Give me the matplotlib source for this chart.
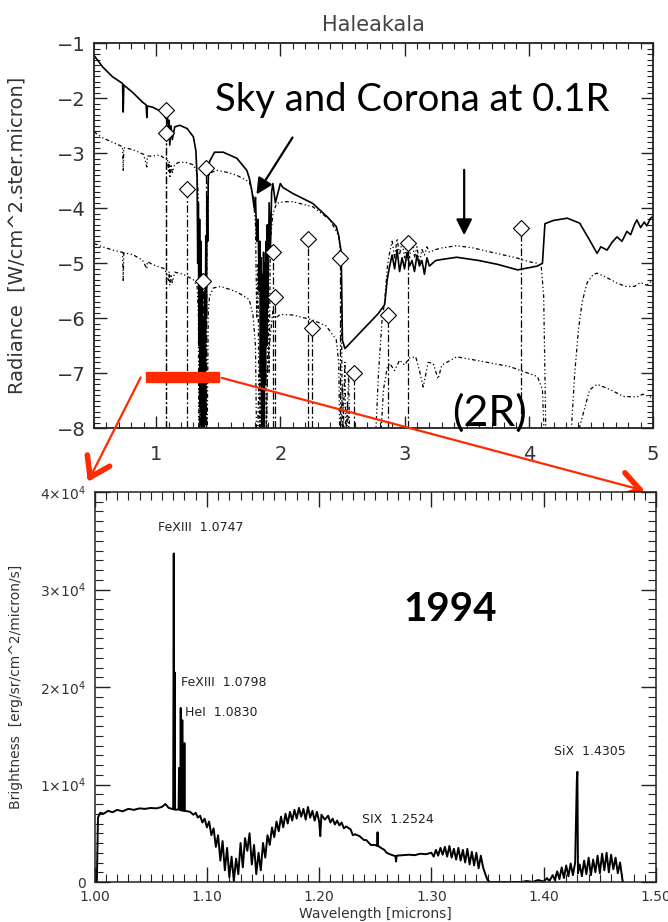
import matplotlib
matplotlib.use('Agg')
import matplotlib.pyplot as plt
from matplotlib.patches import Rectangle
from matplotlib.ticker import MultipleLocator, FixedLocator, FixedFormatter

plt.rcParams['mathtext.default'] = 'regular'

# ---- top panel: log radiance, Haleakala sky and corona ----
sky_x = [0.50, 0.57, 0.65, 0.73, 0.735, 0.74, 0.81, 0.89, 0.92, 0.925, 0.93, 0.97, 1.05, 1.08, 1.09,
         1.10, 1.105, 1.11, 1.12, 1.13, 1.15, 1.19, 1.25, 1.30, 1.32, 1.33, 1.335, 1.34, 1.345, 1.35,
         1.355, 1.36, 1.365, 1.37, 1.375, 1.38, 1.385, 1.39, 1.395, 1.40, 1.405, 1.41, 1.415, 1.42,
         1.43, 1.47, 1.54, 1.65, 1.73, 1.75, 1.77, 1.79, 1.80, 1.81, 1.82, 1.83, 1.835, 1.84, 1.845,
         1.85, 1.855, 1.86, 1.865, 1.87, 1.875, 1.88, 1.885, 1.89, 1.895, 1.90, 1.91, 1.92, 1.93,
         1.94, 1.96, 2.00, 2.02, 2.10, 2.26, 2.38, 2.45, 2.47, 2.49, 2.50, 2.52, 2.79, 2.84, 2.86,
         2.88, 2.90, 2.92, 2.94, 2.96, 2.98, 3.00, 3.02, 3.04, 3.06, 3.08, 3.10, 3.12, 3.14, 3.16,
         3.18, 3.20, 3.25, 3.30, 3.42, 3.60, 3.75, 3.91, 4.07, 4.11, 4.13, 4.20, 4.31, 4.41, 4.49,
         4.55, 4.58, 4.63, 4.67, 4.71, 4.75, 4.79, 4.82, 4.85, 4.87, 4.90, 4.93, 4.95, 4.98, 5.00]
sky_y = [-1.22, -1.43, -1.61, -1.73, -2.25, -1.76, -1.89, -2.07, -2.12, -2.35, -2.14, -2.16, -2.25, -2.37, -2.30,
         -2.60, -2.40, -2.85, -2.50, -2.75, -2.52, -2.49, -2.55, -2.70, -2.95, -3.45, -5.0, -3.9, -6.5, -4.2,
         -7.6, -4.6, -8.5, -5.2, -8.5, -6.0, -8.5, -5.5, -7.8, -4.5, -6.0, -3.8, -4.6, -3.4,
         -3.15, -2.98, -2.98, -3.09, -3.31, -3.45, -3.67, -4.0, -3.8, -4.6, -4.2, -5.5, -4.6, -7.0, -4.9,
         -8.5, -5.2, -7.5, -4.8, -8.5, -5.0, -7.2, -4.6, -6.5, -4.3, -5.8, -3.9, -4.8, -3.7,
         -3.55, -3.9, -3.55, -3.62, -3.73, -3.91, -4.16, -4.33, -4.5, -4.8, -6.4, -6.55, -5.91, -5.75, -5.3,
         -5.05, -4.85, -5.1, -4.75, -5.15, -4.9, -5.1, -4.8, -5.05, -4.95, -5.15, -4.85, -5.05, -4.95, -5.2,
         -4.9, -5.05, -4.95, -4.93, -4.89, -4.95, -5.02, -5.12, -5.05, -5.0, -4.28, -4.22, -4.18, -4.27, -4.58,
         -4.82, -4.70, -4.76, -4.62, -4.52, -4.60, -4.42, -4.48, -4.30, -4.21, -4.35, -4.25, -4.32, -4.18, -4.15]

c01_x = [0.50, 0.57, 0.65, 0.73, 0.735, 0.74, 0.81, 0.86, 0.90, 0.925, 0.93, 0.97, 1.03, 1.07, 1.09,
         1.10, 1.105, 1.11, 1.12, 1.13, 1.15, 1.19, 1.25, 1.30, 1.33, 1.34, 1.345, 1.35, 1.355, 1.36,
         1.365, 1.37, 1.375, 1.38, 1.385, 1.39, 1.395, 1.40, 1.405, 1.41, 1.415, 1.42, 1.43, 1.49,
         1.58, 1.65, 1.75, 1.78, 1.80, 1.81, 1.82, 1.83, 1.84, 1.85, 1.86, 1.87, 1.88, 1.89, 1.90,
         1.91, 1.92, 1.94, 1.97, 2.03, 2.10, 2.26, 2.40, 2.47, 2.49, 2.50, 2.52, 2.53, 2.55, 2.56,
         2.76, 2.79, 2.82, 2.84, 2.86, 2.88, 2.90, 2.92, 2.94, 2.96, 2.98, 3.00, 3.02, 3.04, 3.06,
         3.08, 3.10, 3.12, 3.14, 3.16, 3.18, 3.20, 3.25, 3.30, 3.42, 3.55, 3.70, 3.90, 4.00, 4.07,
         4.10, 4.12, 4.14, 4.33, 4.37, 4.40, 4.43, 4.47, 4.52, 4.55, 4.62, 4.71, 4.78, 4.85, 4.90,
         4.95, 5.00]
c01_y = [-2.61, -2.72, -2.80, -2.88, -3.31, -2.90, -2.93, -2.98, -3.02, -3.25, -3.05, -3.05, -3.03, -3.10, -3.08,
         -3.35, -3.15, -3.45, -3.20, -3.35, -3.20, -3.16, -3.17, -3.21, -3.35, -3.8, -5.5, -4.5, -8.5, -5.5,
         -8.5, -6.5, -8.5, -7.0, -8.5, -6.0, -8.5, -5.0, -7.5, -3.9, -4.5, -3.5, -3.36, -3.31,
         -3.35, -3.40, -3.52, -3.75, -4.3, -6.0, -5.0, -8.5, -6.5, -8.5, -7.0, -8.5, -6.0, -8.5, -5.5,
         -7.0, -4.6, -4.1, -3.91, -3.88, -3.88, -3.97, -4.21, -4.5, -5.0, -8.5, -6.8, -8.5, -7.0, -8.5,
         -8.5, -7.0, -6.0, -5.7, -5.1, -4.8, -4.6, -4.9, -4.55, -4.85, -4.6, -4.9, -4.65, -4.9, -4.55,
         -4.9, -4.7, -5.0, -4.75, -4.85, -4.7, -4.8, -4.75, -4.72, -4.68, -4.72, -4.80, -4.90, -4.97, -5.00,
         -5.05, -5.6, -8.5, -8.5, -7.0, -6.2, -5.7, -5.35, -5.2, -5.18, -5.25, -5.36, -5.42, -5.42, -5.35,
         -5.40, -5.30]

c2_x = [0.50, 0.57, 0.65, 0.73, 0.735, 0.74, 0.81, 0.89, 0.925, 0.93, 0.97, 1.03, 1.07, 1.10, 1.105,
        1.11, 1.12, 1.13, 1.15, 1.22, 1.30, 1.33, 1.34, 1.345, 1.35, 1.355, 1.36, 1.37, 1.38, 1.39,
        1.40, 1.41, 1.42, 1.43, 1.46, 1.52, 1.65, 1.75, 1.78, 1.80, 1.81, 1.83, 1.85, 1.86, 1.88,
        1.90, 1.92, 1.94, 1.96, 2.00, 2.10, 2.26, 2.37, 2.45, 2.47, 2.48, 2.50, 2.52, 2.54, 2.56,
        2.80, 2.83, 2.86, 2.88, 2.92, 2.96, 3.00, 3.04, 3.09, 3.12, 3.15, 3.19, 3.23, 3.27, 3.30,
        3.42, 3.64, 3.85, 4.07, 4.11, 4.13, 4.38, 4.41, 4.49, 4.55, 4.66, 4.76, 4.87, 4.92, 5.00]
c2_y = [-4.64, -4.70, -4.76, -4.80, -5.31, -4.81, -4.84, -4.94, -5.10, -4.97, -5.02, -5.07, -5.10, -5.31, -5.15,
        -5.40, -5.20, -5.35, -5.16, -5.20, -5.30, -5.42, -5.9, -8.5, -6.2, -8.5, -6.8, -8.5, -7.2, -8.5,
        -6.5, -8.5, -5.9, -5.6, -5.45, -5.42, -5.52, -5.66, -5.94, -6.5, -8.5, -7.0, -8.5, -7.2, -8.5,
        -6.8, -6.3, -5.86, -6.00, -5.93, -5.94, -6.03, -6.14, -6.39, -6.8, -8.5, -7.2, -8.5, -7.5, -8.5,
        -8.5, -7.3, -6.9, -6.82, -6.95, -6.76, -6.85, -6.72, -6.70, -6.95, -7.25, -6.80, -6.82, -7.10, -6.85,
        -6.70, -6.79, -6.88, -7.06, -7.30, -8.5, -8.5, -7.97, -7.30, -7.20, -7.30, -7.42, -7.43, -7.38, -7.45]

# diamonds with dash-dot drop lines
mark_x = [1.078, 1.078, 1.248, 1.398, 1.381, 1.938, 1.955, 2.223, 2.258, 2.477, 2.592, 2.863, 3.027, 3.939]
mark_y = [-2.21, -2.64, -3.65, -3.27, -5.33, -4.80, -5.61, -4.56, -6.18, -4.90, -7.00, -5.94, -4.64, -4.35]

# ---- bottom panel: 1994 spectrum ----
spec_x = [1.000, 1.002, 1.003, 1.005, 1.008, 1.012, 1.016, 1.020, 1.025, 1.030, 1.035, 1.040, 1.045, 1.050,
          1.055, 1.060, 1.063, 1.066, 1.069, 1.0700, 1.0705, 1.0709, 1.0713, 1.0717, 1.0748, 1.0752, 1.0756,
          1.0763, 1.0767, 1.0771, 1.0777, 1.0781, 1.0785, 1.0796, 1.0800, 1.0804, 1.085, 1.088, 1.090, 1.092,
          1.094, 1.096, 1.098, 1.100, 1.102, 1.104, 1.106, 1.108, 1.110, 1.112, 1.114, 1.116, 1.118, 1.120,
          1.122, 1.124, 1.126, 1.128, 1.130, 1.132, 1.134, 1.136, 1.138, 1.140, 1.142, 1.144, 1.146, 1.148,
          1.150, 1.152, 1.154, 1.156, 1.158, 1.160, 1.162, 1.164, 1.166, 1.168, 1.170, 1.172, 1.174, 1.176,
          1.178, 1.180, 1.182, 1.184, 1.186, 1.188, 1.190, 1.192, 1.194, 1.196, 1.198, 1.200, 1.201, 1.202,
          1.205, 1.208, 1.210, 1.212, 1.214, 1.216, 1.218, 1.220, 1.222, 1.224, 1.228, 1.230, 1.232, 1.236,
          1.240, 1.242, 1.246, 1.250, 1.2515, 1.2520, 1.2525, 1.255, 1.258, 1.260, 1.264, 1.268, 1.2685,
          1.269, 1.275, 1.280, 1.285, 1.290, 1.295, 1.300, 1.302, 1.304, 1.306, 1.308, 1.310, 1.312, 1.314,
          1.316, 1.318, 1.320, 1.322, 1.324, 1.326, 1.328, 1.330, 1.332, 1.334, 1.336, 1.338, 1.340, 1.342,
          1.344, 1.346, 1.348, 1.350, 1.352, 1.380, 1.385, 1.390, 1.395, 1.400, 1.403, 1.405, 1.408, 1.410,
          1.412, 1.414, 1.416, 1.418, 1.420, 1.422, 1.424, 1.426, 1.428, 1.4295, 1.4300, 1.4305, 1.432,
          1.434, 1.436, 1.438, 1.440, 1.442, 1.444, 1.446, 1.448, 1.450, 1.452, 1.454, 1.456, 1.458, 1.460,
          1.462, 1.464, 1.466, 1.468, 1.470, 1.4705]
spec_y = [0, 0, 6600, 7100, 7000, 7300, 7150, 7400, 7250, 7500, 7400, 7550, 7500, 7600,
          7550, 7700, 8000, 7600, 7500, 7450, 33700, 7500, 21500, 7400, 7450, 11700, 7400,
          7400, 17850, 7350, 7350, 16600, 7300, 7300, 14250, 7300, 7200, 6900, 7100, 6600,
          6800, 6100, 6500, 5600, 6200, 4800, 5500, 3600, 4800, 2200, 4200, 1200, 3500, 500,
          2600, 100, 2400, 800, 4000, 1500, 4500, 3200, 5000, 1800, 3800, 800, 3000, 1200,
          4000, 2500, 4800, 3800, 5600, 4600, 6200, 5200, 6700, 5600, 7000, 6000, 7200, 6300,
          7400, 6500, 7600, 6700, 7500, 6400, 7700, 6600, 7300, 6300, 7200, 6200, 4700, 6900,
          6400, 6800, 6100, 6500, 5900, 6300, 5800, 6100, 5500, 5700, 5400, 4800, 4900, 4700,
          4300, 4300, 3800, 3800, 3700, 5100, 3700, 3500, 3300, 3000, 2800, 2650, 2100,
          2700, 2750, 2800, 2750, 2900, 2850, 3000, 2600, 3300, 2700, 3500, 2800, 3600, 2600,
          3700, 2500, 3400, 2300, 3500, 2200, 3300, 2000, 3400, 1800, 3100, 1700, 3000, 1400,
          2700, 1500, 800, 200, 0, 0, 100, 0, 200, 50, 400, 100, 700, 200,
          1100, 300, 1500, 400, 1700, 600, 1900, 700, 2000, 10500, 11300, 900, 1800,
          600, 2200, 800, 2500, 700, 2300, 1000, 2700, 900, 2900, 1200, 3000, 1000, 2800,
          1300, 2500, 900, 2000, 300, 0]

line_labels = ['FeXIII  1.0747', 'FeXIII  1.0798', 'HeI  1.0830', 'SIX  1.2524', 'SiX  1.4305']
label_x = [1.0565, 1.077, 1.0805, 1.238, 1.409]
label_y = [36400, 20500, 17400, 6400, 13400]

ytick_vals = [0, 10000, 20000, 30000, 40000]
ytick_txt = ['0', r'$1{\times}10^4$', r'$2{\times}10^4$', r'$3{\times}10^4$', r'$4{\times}10^4$']

W, H = 668, 922
fig = plt.figure(figsize=(W / 100, H / 100), dpi=100)
ax1 = fig.add_axes([94 / W, 1 - 428.3 / H, 559 / W, 385 / H])
ax2 = fig.add_axes([94.6 / W, 1 - 882 / H, 561.4 / W, 390 / H])

frame = '#222222'
lab = '#333333'

# top panel
ax1.plot(sky_x, sky_y, color='k', lw=1.2)
ax1.plot(c01_x, c01_y, color='k', lw=0.9, ls=(0, (3, 2, 1, 2, 1, 2)))
ax1.plot(c2_x, c2_y, color='k', lw=0.9, ls=(0, (3, 2, 1, 2, 1, 2)))
ax1.vlines(mark_x, -8, mark_y, colors='k', lw=0.9, linestyles=(0, (6, 2, 1.5, 2)))
ax1.plot(mark_x, mark_y, 'D', ms=8, mfc='white', mec='k', mew=0.8, ls='none')

ax1.set_xlim(0.5, 5)
ax1.set_ylim(-8, -1)
ax1.xaxis.set_major_locator(MultipleLocator(1))
ax1.xaxis.set_minor_locator(MultipleLocator(0.1))
ax1.yaxis.set_major_locator(MultipleLocator(1))
ax1.yaxis.set_minor_locator(MultipleLocator(0.1))
ax1.tick_params(which='both', direction='in', top=True, right=True, colors=frame, labelcolor=lab)
ax1.tick_params(which='major', length=9, width=1.0, labelsize=14)
ax1.tick_params(which='minor', length=4.5, width=0.8)
ax1.tick_params(axis='x', pad=12)
ax1.tick_params(axis='y', pad=6)
for s in ax1.spines.values():
    s.set_linewidth(1.3)
    s.set_color(frame)
ax1.set_title('Haleakala', fontsize=15, color='#444444', pad=9)
ax1.set_ylabel('Radiance  [W/cm^2.ster.micron]', fontsize=14, color=lab)
ax1.yaxis.set_label_coords(-0.12, 0.5)

ax1.text(1.474, -2.03, 'Sky and Corona at 0.1R', fontsize=27.5, family='Lato', ha='left', va='center')
ax1.text(3.68, -7.72, '(2R)', fontsize=31, family='Lato', ha='center', va='center')
ax1.annotate('', xy=(1.796, -3.79), xytext=(2.11, -2.67),
             arrowprops=dict(arrowstyle='-|>', color='k', lw=1.6, mutation_scale=24))
ax1.annotate('', xy=(3.48, -4.54), xytext=(3.48, -3.25),
             arrowprops=dict(arrowstyle='-|>', color='k', lw=1.6, mutation_scale=24))

# red zoom box and connector arrows
red = '#ff2a00'
ax1.add_patch(Rectangle((0.919, -7.16), 0.587, 0.18, color=red, clip_on=False, zorder=5))
ax1.annotate('', xy=(-0.012, 1.026), xycoords=ax2.transAxes, xytext=(0.886, -7.03), textcoords='data',
             arrowprops=dict(arrowstyle='-', color=red, lw=1.6), annotation_clip=False)
ax1.annotate('', xy=(0.98, 1.003), xycoords=ax2.transAxes, xytext=(1.506, -7.07), textcoords='data',
             arrowprops=dict(arrowstyle='-', color=red, lw=1.6), annotation_clip=False)
head = dict(arrowstyle='->, head_length=0.45, head_width=0.3', color=red, lw=4, mutation_scale=30,
            shrinkA=0, shrinkB=0)
ax1.annotate('', xy=(-0.012, 1.026), xycoords=ax2.transAxes, xytext=(2.7, 5.4), textcoords='offset points',
             arrowprops=head, annotation_clip=False)
ax1.annotate('', xy=(0.98, 1.003), xycoords=ax2.transAxes, xytext=(-5.8, 1.5), textcoords='offset points',
             arrowprops=head, annotation_clip=False)

# bottom panel
ax2.plot(spec_x, spec_y, color='k', lw=1.4)
for t, x, y in zip(line_labels, label_x, label_y):
    ax2.text(x, y, t, fontsize=9, color='#222222', ha='left', va='center')
ax2.text(1.317, 27900, '1994', fontsize=29, family='Lato', weight='bold', ha='center', va='center')

ax2.set_xlim(1.0, 1.5)
ax2.set_ylim(0, 40000)
ax2.xaxis.set_major_locator(FixedLocator([1.0, 1.1, 1.2, 1.3, 1.4, 1.5]))
ax2.xaxis.set_major_formatter(FixedFormatter(['1.00', '1.10', '1.20', '1.30', '1.40', '1.50']))
ax2.xaxis.set_minor_locator(MultipleLocator(0.01))
ax2.yaxis.set_major_locator(FixedLocator(ytick_vals))
ax2.yaxis.set_major_formatter(FixedFormatter(ytick_txt))
ax2.yaxis.set_minor_locator(MultipleLocator(1000))
ax2.tick_params(which='both', direction='in', top=True, right=True, colors=frame, labelcolor=lab)
ax2.tick_params(which='major', length=11, width=1.0, labelsize=10)
ax2.tick_params(which='minor', length=6, width=0.8)
ax2.tick_params(axis='x', pad=6)
ax2.tick_params(axis='y', pad=6)
for s in ax2.spines.values():
    s.set_linewidth(1.1)
    s.set_color(frame)
ax2.set_xlabel('Wavelength [microns]', fontsize=10, color=lab)
ax2.xaxis.set_label_coords(0.5, -0.064)
ax2.set_ylabel('Brightness  [erg/sr/cm^2/micron/s]', fontsize=10, color=lab)
ax2.yaxis.set_label_coords(-0.1275, 0.5)

plt.savefig('out.png', dpi=100)
